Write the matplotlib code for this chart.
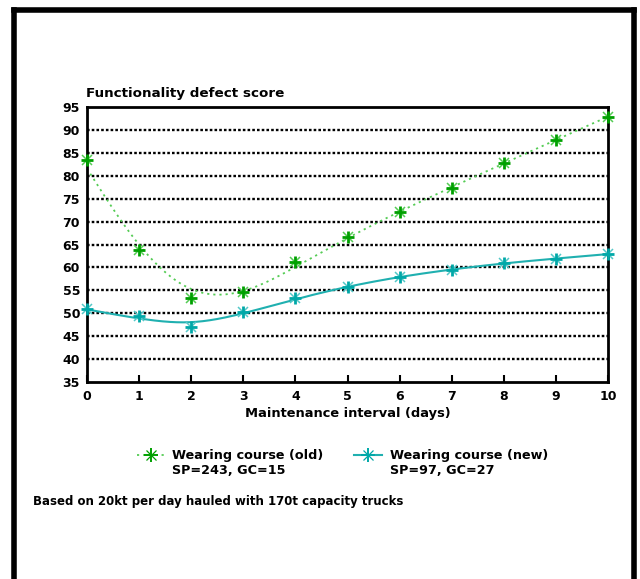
import numpy as np
import matplotlib
matplotlib.use("Agg")
import matplotlib.pyplot as plt
from matplotlib.lines import Line2D

# Maintenance interval (days) and functionality defect scores
days = [0, 1, 2, 3, 4, 5, 6, 7, 8, 9, 10]
old_score = [83.5, 63.7, 53.4, 54.7, 61.2, 66.7, 72.2, 77.4, 82.7, 87.8, 92.9]
new_score = [51.0, 49.3, 46.9, 50.3, 53.3, 55.8, 57.9, 59.5, 60.9, 61.9, 62.9]

old_label = ["Wearing course (old)", "SP=243, GC=15"]
new_label = ["Wearing course (new)", "SP=97, GC=27"]
y_ticks = list(range(35, 100, 5))
x_ticks = list(range(0, 11))
footnote = "Based on 20kt per day hauled with 170t capacity trucks"

OLD_MARK = "#00a000"
OLD_MARK_LIGHT = "#55cc55"
OLD_LINE = "#55cc55"
NEW_MARK = "#00a8a8"
NEW_MARK_LIGHT = "#55c8c8"
NEW_LINE = "#20b0b0"

plt.rcParams["font.family"] = ["DejaVu Sans"]
plt.rcParams["font.weight"] = "bold"

W, H = 640, 579
fig = plt.figure(figsize=(W / 100, H / 100), dpi=100)


def fx(px):
    return px / W


def fy(py):
    return 1 - py / H


def smooth_curve(x, y, lam, n=401):
    """Penalised least-squares (smoothing spline style) fit on a fine grid."""
    x = np.asarray(x, float)
    y = np.asarray(y, float)
    xs = np.linspace(x.min(), x.max(), n)
    h = xs[1] - xs[0]
    idx = np.rint((x - xs[0]) / h).astype(int)
    Wm = np.zeros((len(x), n))
    Wm[np.arange(len(x)), idx] = 1.0
    D = np.diff(np.eye(n), 2, axis=0) / h ** 2
    A = Wm.T @ Wm + lam * h * (D.T @ D)
    f = np.linalg.solve(A, Wm.T @ y)
    return xs, f


ax = fig.add_axes([fx(87), fy(382), fx(608) - fx(87), fy(107) - fy(382)])
ax.set_xlim(0, 10)
ax.set_ylim(35, 95)

for v in y_ticks[1:-1]:
    ax.axhline(v, color="black", lw=1.7, ls=(0, (1.1, 0.9)), zorder=1)

xs, fo = smooth_curve(days, old_score, 0.25)
ax.plot(xs, fo, color=OLD_LINE, lw=1.3, ls=(0, (1.2, 2.2)), zorder=2, clip_on=False)
xs, fn = smooth_curve(days, new_score, 0.2)
ax.plot(xs, fn, color=NEW_LINE, lw=1.5, zorder=2, clip_on=False)


def asterisk(axis, x, y, dark, light, size=9):
    axis.plot(x, y, ls="none", marker="x", ms=size * 0.8, mew=1.1,
              color=light, zorder=4, clip_on=False)
    axis.plot(x, y, ls="none", marker="+", ms=size, mew=2.0,
              color=dark, zorder=5, clip_on=False)


asterisk(ax, days, old_score, OLD_MARK, OLD_MARK_LIGHT)
asterisk(ax, days, new_score, NEW_MARK, NEW_MARK_LIGHT)

ax.set_xticks(x_ticks)
ax.set_yticks(y_ticks)
ax.tick_params(axis="x", direction="in", length=5, width=1.5, pad=6,
               labelsize=9)
ax.tick_params(axis="y", length=0, pad=5, labelsize=9)
for s in ax.spines.values():
    s.set_linewidth(2)

fig.text(fx(86), fy(94), "Functionality defect score", fontsize=9.7,
         fontweight="bold", ha="left", va="center")
ax.set_xlabel("Maintenance interval (days)", fontsize=9.4, fontweight="bold",
              labelpad=3)

# legend entries
lax = fig.add_axes([0, 0, 1, 1], facecolor="none")
lax.set_xlim(0, W)
lax.set_ylim(H, 0)
lax.axis("off")
for (x0, x1, tx), color, dark, ls, lw, lab in [
    ((137, 165, 172), OLD_LINE, OLD_MARK, (0, (1.2, 2.2)), 1.3, old_label),
    ((354, 382, 390), NEW_LINE, NEW_MARK, "-", 1.5, new_label),
]:
    lax.add_line(Line2D([x0, x1], [455, 455], color=color, lw=lw, ls=ls))
    lax.plot([(x0 + x1) / 2], [455], ls="none", marker="+", ms=10, mew=1.4,
             color=dark)
    lax.plot([(x0 + x1) / 2], [455], ls="none", marker="x", ms=7, mew=0.9,
             color=dark)
    lax.text(tx, 456, lab[0], fontsize=9.2, fontweight="bold", ha="left",
             va="center")
    lax.text(tx, 470, lab[1], fontsize=9.2, fontweight="bold", ha="left",
             va="center")

lax.text(33, 501, footnote, fontsize=8.5, fontweight="bold", ha="left",
         va="center")

# outer frame (open at the bottom)
frame_kw = dict(color="black", lw=4, solid_capstyle="projecting")
lax.add_line(Line2D([14, 14], [10, H + 5], **frame_kw))
lax.add_line(Line2D([14, 634], [10, 10], **frame_kw))
lax.add_line(Line2D([634, 634], [10, H + 5], **frame_kw))

fig.savefig("out.png", dpi=100)
